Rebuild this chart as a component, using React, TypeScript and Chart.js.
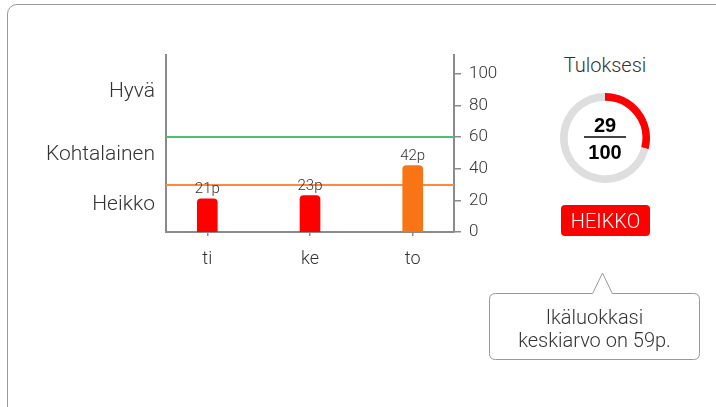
import React, { useEffect, useRef } from 'react';
import { Chart, registerables } from 'chart.js';

Chart.register(...registerables);

// ---- data ----
const categories = ['ti', 'ke', 'to'];
const scores = [21, 23, 42];
const barColors = ['#ff0000', '#ff0000', '#f97414'];
const zoneNames = ['Heikko', 'Kohtalainen', 'Hyvä'];
const zoneLabelAt = [17, 49, 88.5];
const thresholdValues = [30, 60];
const thresholdColors = ['#ff8a3d', '#4cbf70'];
const axisTicks = [0, 20, 40, 60, 80, 100];
const axisMax = 112;
const userScore = 29;
const scoreMax = 100;
const userLevel = 'HEIKKO';
const ageGroupAverage = 59;

const TEXT = '#333333';
const AXIS = '#8a8a8a';
const X_MIN = -0.402;
const X_MAX = 2.402;

const thresholdPlugin = {
  id: 'thresholds',
  beforeDatasetsDraw(chart: any) {
    const { ctx, chartArea, scales } = chart;
    ctx.save();
    thresholdValues.forEach((t, i) => {
      const y = Math.round(scales.y.getPixelForValue(t));
      ctx.strokeStyle = thresholdColors[i];
      ctx.lineWidth = 2;
      ctx.beginPath();
      ctx.moveTo(chartArea.left, y);
      ctx.lineTo(chartArea.right, y);
      ctx.stroke();
    });
    ctx.restore();
  },
};

const barLabelPlugin = {
  id: 'barLabels',
  afterDatasetsDraw(chart: any) {
    const { ctx } = chart;
    const meta = chart.getDatasetMeta(0);
    ctx.save();
    ctx.font = '300 15px Roboto';
    ctx.fillStyle = TEXT;
    ctx.textAlign = 'center';
    ctx.textBaseline = 'alphabetic';
    meta.data.forEach((el: any, i: number) => {
      ctx.fillText(scores[i] + 'p', el.x, el.y - 6);
    });
    ctx.restore();
  },
};

export default function App() {
  const barRef = useRef<HTMLCanvasElement>(null);
  const gaugeRef = useRef<HTMLCanvasElement>(null);

  useEffect(() => {
    const bar = new Chart(barRef.current as HTMLCanvasElement, {
      type: 'bar',
      data: {
        datasets: [
          {
            data: scores.map((v, i) => ({ x: i, y: v })),
            backgroundColor: barColors,
            borderWidth: 0,
            borderRadius: { topLeft: 4, topRight: 4, bottomLeft: 0, bottomRight: 0 },
            borderSkipped: 'bottom',
            barThickness: 20,
            xAxisID: 'x',
            yAxisID: 'y',
          } as any,
        ],
      },
      options: {
        responsive: false,
        animation: false,
        layout: { padding: { top: 55, left: 0, right: 0, bottom: 0 } },
        plugins: { legend: { display: false }, tooltip: { enabled: false } },
        scales: {
          x: {
            type: 'linear',
            min: X_MIN,
            max: X_MAX,
            offset: false,
            bounds: 'data',
            afterBuildTicks: (s: any) => {
              s.ticks = categories.map((_, i) => ({ value: i }));
              s.min = X_MIN;
              s.max = X_MAX;
            },
            afterFit: (s: any) => {
              s.height = 58;
            },
            ticks: {
              callback: (v: any) => categories[v as number] ?? '',
              font: { family: 'Roboto', size: 18, weight: '300' as any },
              color: TEXT,
              padding: 13,
              maxRotation: 0,
              autoSkip: false,
            },
            grid: { offset: false, drawOnChartArea: false, drawTicks: true, tickLength: 4, color: AXIS, lineWidth: 1.5 },
            border: { display: true, color: AXIS, width: 2 },
          },
          y: {
            position: 'left',
            min: 0,
            max: axisMax,
            bounds: 'data',
            afterBuildTicks: (s: any) => {
              s.ticks = zoneLabelAt.map((v) => ({ value: v }));
              s.min = 0;
              s.max = axisMax;
            },
            afterFit: (s: any) => {
              s.width = 166;
            },
            ticks: {
              callback: (_v: any, i: number) => zoneNames[i],
              font: { family: 'Roboto', size: 21, weight: '300' as any },
              color: TEXT,
              padding: 11,
              autoSkip: false,
            },
            grid: { display: false, drawTicks: false },
            border: { display: true, color: AXIS, width: 2 },
          },
          y2: {
            position: 'right',
            min: 0,
            max: axisMax,
            bounds: 'data',
            afterBuildTicks: (s: any) => {
              s.ticks = axisTicks.map((v) => ({ value: v }));
              s.min = 0;
              s.max = axisMax;
            },
            afterFit: (s: any) => {
              s.width = 76;
            },
            ticks: {
              font: { family: 'Roboto', size: 17, weight: '300' as any },
              color: TEXT,
              padding: 8,
              autoSkip: false,
            },
            grid: { drawOnChartArea: false, drawTicks: true, tickLength: 7, color: AXIS, lineWidth: 1.5 },
            border: { display: true, color: AXIS, width: 2 },
          },
        } as any,
      },
      plugins: [thresholdPlugin, barLabelPlugin],
    });

    const gauge = new Chart(gaugeRef.current as HTMLCanvasElement, {
      type: 'doughnut',
      data: {
        labels: ['score', 'rest'],
        datasets: [
          {
            data: [userScore, scoreMax - userScore],
            backgroundColor: ['#ff0000', '#dedede'],
            borderWidth: 0,
          },
        ],
      },
      options: {
        responsive: false,
        animation: false,
        cutout: '83%',
        plugins: { legend: { display: false }, tooltip: { enabled: false } },
      } as any,
    });

    return () => {
      bar.destroy();
      gauge.destroy();
    };
  }, []);

  const light: React.CSSProperties = {
    fontFamily: 'Roboto, sans-serif',
    fontWeight: 300,
    color: TEXT,
    position: 'absolute',
    whiteSpace: 'nowrap',
  };

  const bold: React.CSSProperties = {
    position: 'absolute',
    left: 565,
    width: 80,
    fontFamily: '"Liberation Sans", Arial, sans-serif',
    fontWeight: 700,
    fontSize: 20,
    lineHeight: '24px',
    textAlign: 'center',
    color: '#000',
  };

  return (
    <div style={{ position: 'absolute', left: 0, top: 0, width: 716, height: 407, overflow: 'hidden', background: '#fff' }}>
      <div
        style={{
          position: 'absolute',
          left: 7,
          top: 4,
          width: 780,
          height: 460,
          border: '1px solid #9a9a9a',
          borderRadius: 10,
          boxSizing: 'border-box',
        }}
      />
      <canvas
        ref={barRef}
        width={530}
        height={290}
        style={{ position: 'absolute', left: 0, top: 0, width: 530, height: 290 }}
      />

      <div style={{ ...light, left: 545, width: 120, top: 53, fontSize: 20, lineHeight: '24px', textAlign: 'center' }}>
        Tuloksesi
      </div>

      <canvas
        ref={gaugeRef}
        width={90}
        height={90}
        style={{ position: 'absolute', left: 560, top: 93, width: 90, height: 90 }}
      />
      <div style={{ ...bold, top: 113 }}>{userScore}</div>
      <div style={{ position: 'absolute', left: 584, top: 136, width: 42, height: 2, background: '#444' }} />
      <div style={{ ...bold, top: 140 }}>{scoreMax}</div>

      <div
        style={{
          position: 'absolute',
          left: 561,
          top: 205,
          width: 89,
          height: 31,
          background: '#ff0000',
          borderRadius: 4,
          color: '#fff',
          fontFamily: 'Roboto, sans-serif',
          fontWeight: 300,
          fontSize: 20,
          display: 'flex',
          alignItems: 'center',
          justifyContent: 'center',
        }}
      >
        {userLevel}
      </div>

      <svg width={716} height={407} style={{ position: 'absolute', left: 0, top: 0 }}>
        <path
          d="M 495.5 293.5 L 592.7 293.5 L 602.5 273 L 612.3 293.5 L 693.5 293.5 Q 699.5 293.5 699.5 299.5 L 699.5 353.5 Q 699.5 359.5 693.5 359.5 L 495.5 359.5 Q 489.5 359.5 489.5 353.5 L 489.5 299.5 Q 489.5 293.5 495.5 293.5 Z"
          fill="#fff"
          stroke="#999"
          strokeWidth={1}
        />
      </svg>
      <div style={{ ...light, left: 489, width: 211, top: 305.5, fontSize: 20, lineHeight: '23.5px', textAlign: 'center' }}>
        Ikäluokkasi
        <br />
        keskiarvo on {ageGroupAverage}p.
      </div>
    </div>
  );
}
